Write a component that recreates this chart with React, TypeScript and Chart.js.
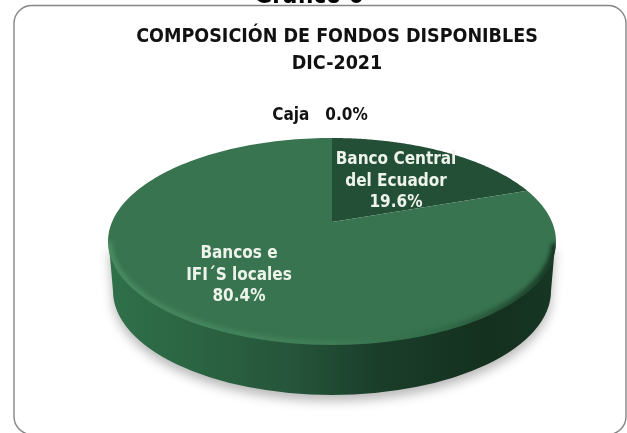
import React, { useEffect, useRef } from "react";
import { Chart, registerables } from "chart.js";

Chart.register(...registerables);

const categories = ["Caja", "Banco Central del Ecuador", "Bancos e IFI´S locales"];
const values = [0.0, 19.6, 80.4];
const colors = ["#1f4a32", "#244f37", "#38744f"];
const titleLines = ["COMPOSICIÓN DE FONDOS DISPONIBLES", "DIC-2021"];
const headerText = "Gráfico 6";
const labelLines = [["Caja"], ["Banco Central", "del Ecuador"], ["Bancos e", "IFI´S locales"]];

const FONT = '"DejaVu Sans Condensed", "DejaVu Sans", sans-serif';
const persp = { cx: 332, cy: 222, A: 220, B: 99.8, k: 0.188 };
const rim = { cx: 332, cy: 241.5, rx: 224, ry: 103.5 };
const base = { cx: 332, cy: 291, rx: 219, ry: 104 };
const labelPos = [
  { x: 320, y: 116 },
  { x: 396, y: 160 },
  { x: 239, y: 254 },
];

function project(angle: number) {
  const X = Math.cos(angle);
  const Y = Math.sin(angle);
  const w = 1 - persp.k * Y;
  return { x: persp.cx + (persp.A * X) / w, y: persp.cy + (persp.B * Y) / w };
}

const frame = {
  id: "frame",
  beforeDraw(chart: any) {
    const ctx = chart.ctx;
    ctx.save();
    ctx.fillStyle = "#ffffff";
    ctx.fillRect(0, 0, 627, 433);
    ctx.fillStyle = "#000000";
    ctx.font = `bold 24px ${FONT}`;
    ctx.textAlign = "center";
    ctx.textBaseline = "alphabetic";
    ctx.fillText(headerText, 309, 3);
    ctx.strokeStyle = "#858585";
    ctx.lineWidth = 1.4;
    ctx.beginPath();
    ctx.roundRect(14, 5.5, 612, 429, 18);
    ctx.stroke();
    ctx.restore();
  },
};

const pie3d = {
  id: "pie3d",
  beforeDatasetDraw(chart: any) {
    const ctx = chart.ctx;
    const arcs = chart.getDatasetMeta(0).data;
    ctx.save();
    // side wall with soft shadow
    const grad = ctx.createLinearGradient(rim.cx - rim.rx, 0, rim.cx + rim.rx, 0);
    grad.addColorStop(0, "#2f7049");
    grad.addColorStop(0.2, "#2b6442");
    grad.addColorStop(0.42, "#25543a");
    grad.addColorStop(0.6, "#1a3e2a");
    grad.addColorStop(0.85, "#14301f");
    grad.addColorStop(1, "#173624");
    ctx.fillStyle = grad;
    ctx.shadowColor = "rgba(0,0,0,0.28)";
    ctx.shadowBlur = 11;
    ctx.shadowOffsetY = 6;
    ctx.beginPath();
    ctx.moveTo(rim.cx + rim.rx - 1, rim.cy + 4);
    ctx.lineTo(base.cx + base.rx, base.cy);
    ctx.ellipse(base.cx, base.cy, base.rx, base.ry, 0, 0, Math.PI);
    ctx.lineTo(rim.cx - rim.rx + 1, rim.cy + 4);
    ctx.closePath();
    ctx.fill();
    ctx.shadowColor = "transparent";
    ctx.shadowBlur = 0;
    ctx.shadowOffsetY = 0;
    // slices: angles come from the pie's own arc elements
    arcs.forEach((arc: any) => {
      const { startAngle, endAngle } = arc.getProps(["startAngle", "endAngle"], true);
      if (endAngle - startAngle <= 0) return;
      ctx.beginPath();
      ctx.moveTo(persp.cx, persp.cy);
      const n = 180;
      for (let i = 0; i <= n; i++) {
        const p = project(startAngle + ((endAngle - startAngle) * i) / n);
        ctx.lineTo(p.x, p.y);
      }
      ctx.closePath();
      ctx.fillStyle = arc.options.backgroundColor;
      ctx.fill();
    });
    // bevel on the rim
    ctx.save();
    ctx.beginPath();
    ctx.ellipse(rim.cx, rim.cy, rim.rx, rim.ry, 0, 0, Math.PI * 2);
    ctx.clip();
    const bevel = ctx.createLinearGradient(rim.cx - rim.rx, 0, rim.cx + rim.rx, 0);
    bevel.addColorStop(0, "rgba(96,170,120,0.45)");
    bevel.addColorStop(0.5, "rgba(80,150,105,0.3)");
    bevel.addColorStop(0.72, "rgba(40,90,60,0.3)");
    bevel.addColorStop(1, "rgba(8,28,16,0.75)");
    ctx.filter = "blur(2px)";
    ctx.strokeStyle = bevel;
    ctx.lineWidth = 7;
    ctx.beginPath();
    ctx.ellipse(rim.cx, rim.cy, rim.rx - 1, rim.ry - 1, 0, 0.02, Math.PI);
    ctx.stroke();
    ctx.restore();
    ctx.restore();
    return false;
  },
  afterDatasetsDraw(chart: any) {
    const ctx = chart.ctx;
    ctx.save();
    ctx.textAlign = "center";
    ctx.textBaseline = "middle";
    ctx.font = `bold 17px ${FONT}`;
    values.forEach((v, i) => {
      const pos = labelPos[i];
      const pct = `${v.toFixed(1)}%`;
      if (i === 0) {
        ctx.fillStyle = "#111111";
        ctx.fillText(`${labelLines[i][0]}   ${pct}`, pos.x, pos.y);
        return;
      }
      ctx.fillStyle = "#eef4ec";
      [...labelLines[i], pct].forEach((line, j) => ctx.fillText(line, pos.x, pos.y + j * 21.5));
    });
    ctx.restore();
  },
};

export default function App() {
  const ref = useRef<HTMLCanvasElement>(null);
  useEffect(() => {
    const chart = new Chart(ref.current as HTMLCanvasElement, {
      type: "pie",
      data: {
        labels: categories,
        datasets: [{ data: values, backgroundColor: colors, borderWidth: 0 }],
      },
      options: {
        animation: false,
        responsive: false,
        layout: { padding: { left: 47 } },
        plugins: {
          legend: { display: false },
          tooltip: { enabled: false },
          title: {
            display: true,
            fullSize: false,
            text: titleLines,
            color: "#111111",
            font: { family: FONT, size: 19.5, weight: "bold", lineHeight: 1.36 },
            padding: { top: 24, bottom: 10 },
          },
        },
      },
      plugins: [frame, pie3d],
    } as any);
    return () => chart.destroy();
  }, []);
  return (
    <div style={{ position: "absolute", left: 0, top: 0, width: 627, height: 433, overflow: "hidden" }}>
      <canvas ref={ref} width={627} height={433} style={{ display: "block" }} />
    </div>
  );
}
